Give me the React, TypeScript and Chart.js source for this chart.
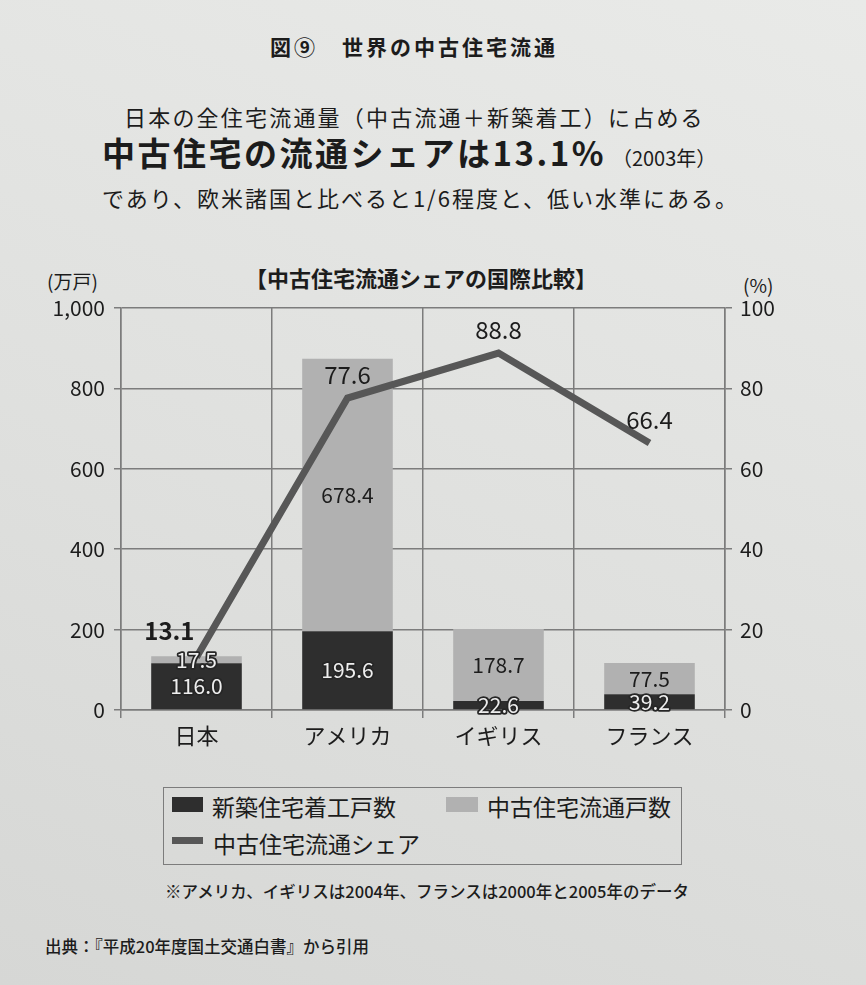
import React, { useEffect, useRef } from "react";
import { Chart, registerables } from "chart.js";

Chart.register(...registerables);

const categories = ["日本", "アメリカ", "イギリス", "フランス"];
const newStarts = [116.0, 195.6, 22.6, 39.2];
const usedSales = [17.5, 678.4, 178.7, 77.5];
const usedShare = [13.1, 77.6, 88.8, 66.4];
const leftTicks = [0, 200, 400, 600, 800, 1000];
const rightTicks = [0, 20, 40, 60, 80, 100];
const seriesNames = ["新築住宅着工戸数", "中古住宅流通戸数", "中古住宅流通シェア"];

const FONT = '"Noto Sans CJK JP", "Noto Sans", sans-serif';
const TEXT = "#1c1c1c";
const GRID = "#7c7c7c";
const DARK = "#2e2e2e";
const LIGHT = "#b1b1b1";
const LINE = "#575757";

const labelPlugin = {
  id: "valueLabels",
  afterDatasetsDraw(chart: any) {
    const ctx = chart.ctx as CanvasRenderingContext2D;
    ctx.save();
    ctx.textAlign = "center";
    ctx.textBaseline = "middle";
    ctx.lineJoin = "round";
    [1, 2].forEach((di) => {
      const meta = chart.getDatasetMeta(di);
      const values = chart.data.datasets[di].data as number[];
      meta.data.forEach((el: any, i: number) => {
        const p = el.getProps(["x", "y", "base"], true);
        const h = Math.abs(p.base - p.y);
        const cy = (p.y + p.base) / 2;
        const txt = Number(values[i]).toFixed(1);
        ctx.font = `21px ${FONT}`;
        const outlined = di === 1 || h < 30;
        if (outlined) {
          ctx.lineWidth = 3.5;
          ctx.strokeStyle = "#262626";
          ctx.strokeText(txt, p.x, cy);
          ctx.fillStyle = "#eeeeee";
          ctx.fillText(txt, p.x, cy);
        } else {
          ctx.fillStyle = TEXT;
          ctx.fillText(txt, p.x, cy);
        }
      });
    });
    const lmeta = chart.getDatasetMeta(0);
    lmeta.data.forEach((pt: any, i: number) => {
      const txt = Number(usedShare[i]).toFixed(1);
      ctx.fillStyle = TEXT;
      if (i === 0) {
        ctx.font = `bold 24px ${FONT}`;
        ctx.textAlign = "right";
        ctx.fillText(txt, pt.x - 2, pt.y - 26);
      } else {
        ctx.font = `24px ${FONT}`;
        ctx.textAlign = "center";
        ctx.fillText(txt, pt.x, pt.y - 23);
      }
    });
    ctx.restore();
  },
};

function ChartCanvas() {
  const ref = useRef<HTMLCanvasElement | null>(null);
  useEffect(() => {
    if (!ref.current) return;
    const chart = new Chart(ref.current, {
      type: "bar",
      data: {
        labels: categories,
        datasets: [
          {
            type: "line",
            label: seriesNames[2],
            data: usedShare,
            yAxisID: "y2",
            borderColor: LINE,
            backgroundColor: LINE,
            borderWidth: 7,
            pointRadius: 0,
            tension: 0,
            borderJoinStyle: "miter",
            borderCapStyle: "butt",
            order: 0,
          } as any,
          {
            type: "bar",
            label: seriesNames[0],
            data: newStarts,
            backgroundColor: DARK,
            stack: "s",
            yAxisID: "y",
            barPercentage: 0.6,
            categoryPercentage: 1,
            order: 1,
          },
          {
            type: "bar",
            label: seriesNames[1],
            data: usedSales,
            backgroundColor: LIGHT,
            stack: "s",
            yAxisID: "y",
            barPercentage: 0.6,
            categoryPercentage: 1,
            order: 1,
          },
        ],
      },
      options: {
        responsive: false,
        animation: false,
        devicePixelRatio: 1,
        layout: { padding: { top: 58, left: 0, right: 0, bottom: 0 } },
        plugins: {
          legend: { display: false },
          title: { display: false },
          tooltip: { enabled: false },
        },
        scales: {
          x: {
            stacked: true,
            offset: true,
            grid: { offset: true, color: GRID, lineWidth: 1.5, tickLength: 8, drawTicks: true },
            border: { display: true, color: GRID, width: 1.5 },
            ticks: { font: { family: FONT, size: 22 }, color: TEXT, padding: 4 },
            afterFit: (s: any) => {
              s.height = 60;
            },
          },
          y: {
            position: "left",
            stacked: true,
            min: 0,
            max: 1000,
            afterBuildTicks: (s: any) => {
              s.ticks = leftTicks.map((v) => ({ value: v }));
            },
            ticks: {
              font: { family: FONT, size: 21 },
              color: TEXT,
              padding: 9,
              callback: (v: any) => Number(v).toLocaleString("en-US"),
            },
            grid: { color: GRID, lineWidth: 1.5, tickLength: 7 },
            border: { display: true, color: GRID, width: 1.5 },
            afterFit: (s: any) => {
              s.width = 121;
            },
          },
          y2: {
            position: "right",
            min: 0,
            max: 100,
            afterBuildTicks: (s: any) => {
              s.ticks = rightTicks.map((v) => ({ value: v }));
            },
            ticks: { font: { family: FONT, size: 21 }, color: TEXT, padding: 8 },
            grid: { drawOnChartArea: false, color: GRID, lineWidth: 1.5, tickLength: 7 },
            border: { display: true, color: GRID, width: 1.5 },
            afterFit: (s: any) => {
              s.width = 141;
            },
          },
        },
      },
      plugins: [labelPlugin],
    });
    return () => chart.destroy();
  }, []);
  return (
    <canvas
      ref={ref}
      width={866}
      height={520}
      style={{ position: "absolute", left: 0, top: 250, width: 866, height: 520 }}
    />
  );
}

const abs = (left: number, centerY: number, size: number, extra: React.CSSProperties = {}): React.CSSProperties => ({
  position: "absolute",
  left,
  top: centerY - size * 0.75,
  fontSize: size,
  lineHeight: `${size * 1.5}px`,
  whiteSpace: "pre",
  ...extra,
});

export default function App() {
  return (
    <div
      style={{
        position: "fixed",
        left: 0,
        top: 0,
        width: 866,
        height: 985,
        overflow: "hidden",
        background: "linear-gradient(200deg, #e9eae8 0%, #dfe0de 55%, #d6d7d5 100%)",
        fontFamily: FONT,
        color: TEXT,
      }}
    >
      <div style={abs(270, 47, 21, { fontWeight: 700, letterSpacing: 3 })}>図⑨　世界の中古住宅流通</div>
      <div style={abs(124, 116, 22, { letterSpacing: 2.2 })}>日本の全住宅流通量（中古流通＋新築着工）に占める</div>
      <div style={abs(102, 153, 33, { fontWeight: 700, letterSpacing: 2.5 })}>
        中古住宅の流通シェアは13.1%
        <span style={{ fontSize: 20, fontWeight: 400, letterSpacing: 0, marginLeft: 6 }}>（2003年）</span>
      </div>
      <div style={abs(102, 197, 22, { letterSpacing: 2 })}>であり、欧米諸国と比べると1/6程度と、低い水準にある。</div>

      <div style={abs(245, 277, 22, { fontWeight: 700 })}>【中古住宅流通シェアの国際比較】</div>
      <div style={abs(47, 281, 19)}>(万戸)</div>
      <div style={abs(743, 285, 19)}>(%)</div>

      <ChartCanvas />

      <div
        style={{
          position: "absolute",
          left: 163,
          top: 787,
          width: 519,
          height: 78,
          border: `1.5px solid ${GRID}`,
          boxSizing: "border-box",
        }}
      />
      <div style={{ position: "absolute", left: 172, top: 797, width: 31, height: 15, background: DARK }} />
      <div style={abs(212, 806, 23)}>{seriesNames[0]}</div>
      <div style={{ position: "absolute", left: 446, top: 797, width: 32, height: 15, background: LIGHT }} />
      <div style={abs(487, 806, 23)}>{seriesNames[1]}</div>
      <div style={{ position: "absolute", left: 172, top: 837, width: 31, height: 7, background: LINE }} />
      <div style={abs(213, 843, 23)}>{seriesNames[2]}</div>

      <div style={abs(165, 891, 16.5, { fontWeight: 500 })}>※アメリカ、イギリスは2004年、フランスは2000年と2005年のデータ</div>
      <div style={abs(45, 946, 16.5, { fontWeight: 500 })}>出典：『平成20年度国土交通白書』から引用</div>
    </div>
  );
}
